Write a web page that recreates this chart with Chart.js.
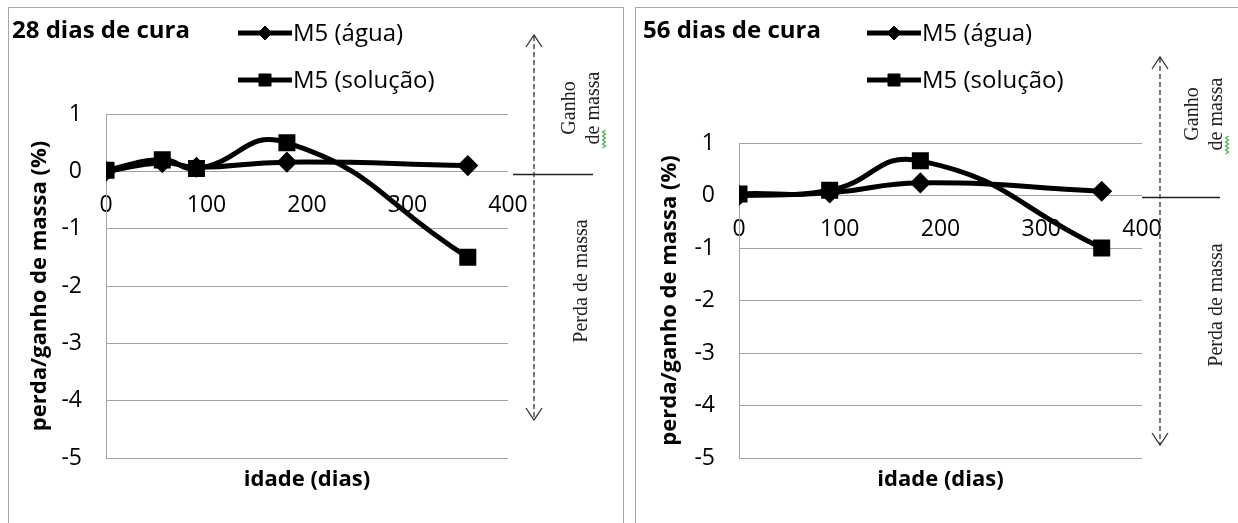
<!DOCTYPE html>
<html>
<head>
<meta charset="utf-8">
<script src="https://cdn.jsdelivr.net/npm/chart.js@4.4.1/dist/chart.umd.min.js"></script>
<style>
  body { margin: 0; width: 1238px; height: 523px; overflow: hidden; background: #fff; position: relative; }
  .panel { position: absolute; top: 7px; height: 540px; border: 1px solid #a6a6a6; box-sizing: border-box; }
  #p1 { left: 8px; width: 616px; }
  #p2 { left: 635px; width: 620px; }
  .panel canvas { position: absolute; left: -1px; top: -1px; }
</style>
</head>
<body>
<div class="panel" id="p1"><canvas id="c28" width="616" height="516"></canvas></div>
<div class="panel" id="p2"><canvas id="c56" width="603" height="516"></canvas></div>
<script>
// data
const dias28 = [0, 56, 90, 180, 360];
const agua28 = [0, 0.15, 0.07, 0.16, 0.1];
const solucao28 = [0.02, 0.2, 0.05, 0.5, -1.5];

const dias56 = [0, 90, 180, 360];
const agua56 = [0, 0.05, 0.24, 0.08];
const solucao56 = [0.03, 0.1, 0.66, -1.0];

const yTicks = [1, 0, -1, -2, -3, -4, -5];
const xTicks = [0, 100, 200, 300, 400];
const seriesNames = ['M5 (água)', 'M5 (solução)'];

const FONT = '"Open Sans", sans-serif';
const GRID = '#a3a3a3';

// extra drawing: panel title, legend, axis titles, gain/loss arrow
const decor = {
  id: 'decor',
  afterDraw(chart, args, o) {
    const ctx = chart.ctx;
    ctx.save();
    ctx.fillStyle = '#000';
    ctx.textBaseline = 'middle';

    // title inside the panel
    ctx.textAlign = 'left';
    ctx.font = 'bold 24px ' + FONT;
    ctx.fillText(o.title, o.titleX, o.titleY);

    // legend (line + marker + text)
    chart.data.datasets.forEach((ds, i) => {
      const y = o.legendY[i];
      ctx.strokeStyle = '#000';
      ctx.lineWidth = 5;
      ctx.beginPath();
      ctx.moveTo(o.legendX, y);
      ctx.lineTo(o.legendX + 54, y);
      ctx.stroke();
      ctx.lineWidth = 1;
      Chart.helpers.drawPoint(ctx, { pointStyle: ds.pointStyle, radius: ds.pointRadius, rotation: 0, borderWidth: 1 }, o.legendX + 27, y);
      ctx.font = '24px ' + FONT;
      ctx.fillText(ds.label, o.legendX + 55, y + 1);
    });

    // axis titles
    const area = chart.chartArea;
    ctx.font = 'bold 22px ' + FONT;
    ctx.textAlign = 'center';
    ctx.fillText('idade (dias)', (area.left + area.right) / 2, o.xTitleY);
    ctx.save();
    ctx.translate(o.yTitleX, (area.top + area.bottom) / 2);
    ctx.rotate(-Math.PI / 2);
    ctx.fillText('perda/ganho de massa (%)', 0, 0);
    ctx.restore();

    // dashed double arrow
    ctx.strokeStyle = '#333';
    ctx.lineWidth = 1.3;
    ctx.setLineDash([5, 3]);
    ctx.beginPath();
    ctx.moveTo(o.arrowX, o.arrowTop + 1);
    ctx.lineTo(o.arrowX, o.arrowBottom - 1);
    ctx.stroke();
    ctx.setLineDash([]);
    ctx.beginPath();
    ctx.moveTo(o.arrowX - 8, o.arrowTop + 12);
    ctx.lineTo(o.arrowX, o.arrowTop);
    ctx.lineTo(o.arrowX + 8, o.arrowTop + 12);
    ctx.moveTo(o.arrowX - 8, o.arrowBottom - 12);
    ctx.lineTo(o.arrowX, o.arrowBottom);
    ctx.lineTo(o.arrowX + 8, o.arrowBottom - 12);
    ctx.stroke();

    // horizontal split line
    ctx.strokeStyle = '#222';
    ctx.lineWidth = 1.5;
    ctx.beginPath();
    ctx.moveTo(o.splitX1, o.splitY + 0.5);
    ctx.lineTo(o.splitX2, o.splitY + 0.5);
    ctx.stroke();

    // rotated serif labels
    ctx.font = '20px "Liberation Serif", serif';
    ctx.fillStyle = '#222';
    const vtext = (t, x, y) => {
      ctx.save();
      ctx.translate(x, y);
      ctx.rotate(-Math.PI / 2);
      ctx.fillText(t, 0, 0);
      ctx.restore();
    };
    vtext('Ganho', o.ganhoX, o.ganhoY);
    vtext('de massa', o.ganhoX + 24, o.ganhoY);
    vtext('Perda de massa', o.perdaX, o.perdaY);

    // green wavy underline under "de"
    ctx.strokeStyle = '#3cb043';
    ctx.lineWidth = 1.2;
    const wx = o.ganhoX + 24 + 10;
    const wy0 = o.ganhoY + 40;
    ctx.beginPath();
    for (let k = 0; k <= 9; k++) {
      const yy = wy0 - k * 2;
      const xx = wx + (k % 2 ? 1.5 : -1.5);
      if (k === 0) ctx.moveTo(xx, yy); else ctx.lineTo(xx, yy);
    }
    ctx.stroke();
    ctx.restore();
  }
};

function makeChart(id, dias, agua, solucao, pad, deco) {
  const toPts = (vals) => vals.map((v, i) => ({ x: dias[i], y: v }));
  return new Chart(document.getElementById(id), {
    type: 'line',
    data: {
      datasets: [
        {
          label: seriesNames[0],
          data: toPts(agua),
          borderColor: '#000',
          backgroundColor: '#000',
          borderWidth: 5,
          tension: 0.5,
          pointStyle: 'rectRot',
          pointRadius: 7,
          pointBackgroundColor: '#000',
          pointBorderColor: '#000'
        },
        {
          label: seriesNames[1],
          data: toPts(solucao),
          borderColor: '#000',
          backgroundColor: '#000',
          borderWidth: 5,
          tension: 0.5,
          pointStyle: 'rect',
          pointRadius: 8.5,
          pointBackgroundColor: '#000',
          pointBorderColor: '#000'
        }
      ]
    },
    options: {
      responsive: false,
      animation: false,
      layout: { padding: pad },
      scales: {
        x: {
          type: 'linear',
          min: 0,
          max: 400,
          position: { y: 0 },
          afterBuildTicks: (s) => { s.ticks = xTicks.map(v => ({ value: v })); },
          grid: { display: false },
          border: { display: false },
          ticks: { color: '#000', padding: 12, maxRotation: 0, font: { family: FONT, size: 23 } }
        },
        y: {
          min: -5,
          max: 1,
          afterBuildTicks: (s) => { s.ticks = yTicks.map(v => ({ value: v })); },
          afterFit: (s) => { s.width = 60; },
          grid: { color: GRID, lineWidth: 1, drawTicks: false },
          border: { display: true, color: GRID, width: 1 },
          ticks: { color: '#000', padding: 24, font: { family: FONT, size: 23 } }
        }
      },
      plugins: {
        legend: { display: false },
        tooltip: { enabled: false },
        decor: deco
      }
    },
    plugins: [decor]
  });
}

// 28 dias de cura
makeChart('c28', dias28, agua28, solucao28,
  { left: 38, right: 116, top: 107, bottom: 65 },
  {
    title: '28 dias de cura', titleX: 4, titleY: 24,
    legendX: 230, legendY: [26, 73],
    yTitleX: 32, xTitleY: 473,
    arrowX: 526, arrowTop: 28, arrowBottom: 413,
    splitX1: 505, splitX2: 585, splitY: 167,
    ganhoX: 562, ganhoY: 101, perdaX: 574, perdaY: 274
  });

// 56 dias de cura
makeChart('c56', dias56, agua56, solucao56,
  { left: 44, right: 96, top: 136, bottom: 65 },
  {
    title: '56 dias de cura', titleX: 8, titleY: 24,
    legendX: 232, legendY: [26, 73],
    yTitleX: 35, xTitleY: 473,
    arrowX: 525, arrowTop: 50, arrowBottom: 438,
    splitX1: 507, splitX2: 585, splitY: 190,
    ganhoX: 558, ganhoY: 107, perdaX: 582, perdaY: 298
  });
</script>
</body>
</html>
